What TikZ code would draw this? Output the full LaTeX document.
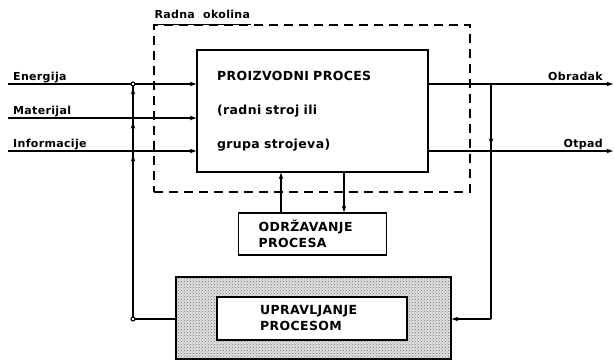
\documentclass[tikz,border=0pt]{standalone}
\usepackage{fontspec}
\setmainfont{DejaVu Sans}[LetterSpace=3]
\usetikzlibrary{arrows.meta, positioning, calc, patterns}

\tikzset{
  arr/.style={-{Stealth[length=6.5pt, width=4.5pt]}, line width=1.1pt},
  wire/.style={line width=1.1pt},
  blok/.style={draw, line width=1.4pt, inner sep=0pt},
  blokText/.style={font=\fontsize{12.5}{16}\selectfont\bfseries, align=left},
  lbl/.style={font=\fontsize{11}{14}\selectfont\bfseries, inner sep=0pt},
  okolina/.style={draw, line width=1.4pt, dash pattern=on 9pt off 6pt},
}

\begin{document}
\begin{tikzpicture}[x=1pt, y=-1pt]
\useasboundingbox (0,0) rectangle (615,361);

% radna okolina
\node[okolina, minimum width=316pt, minimum height=167pt] (env) at (312,108.5) {};
\node[lbl, anchor=south west, inner ysep=5pt, inner xsep=1pt] (envLbl) at (env.north west) {Radna\ \ okolina};
\draw[line width=1.4pt] (envLbl.south west) -- (envLbl.south east);

% proces
\node[blok, blokText, minimum width=231pt, minimum height=122pt, text width=191pt, inner xsep=20pt, fill=white] (proc) at (312.5,111)
     {PROIZVODNI PROCES\\[18pt](radni stroj ili\\[18pt]grupa strojeva)};

% ulazi
\foreach \y/\name/\txt in {84/inE/Energija, 118/inM/Materijal, 151/inI/Informacije} {
  \coordinate (\name) at (8,\y);
  \node[lbl, anchor=base west] (\name Lbl) at (13,\y-4) {\txt};
  \draw[arr] (\name) -- (\name -| proc.west);
}

% izlazi
\foreach \y/\name/\txt in {84/outO/Obradak, 151/outP/Otpad} {
  \coordinate (\name) at (613,\y);
  \node[lbl, anchor=base east] (\name Lbl) at (603,\y-4) {\txt};
  \draw[arr] (\name -| proc.east) -- (\name);
}

% odrzavanje
\node[blok, blokText, text width=108pt, inner xsep=20pt, minimum height=42pt] (odr) at (312.5,234) {ODRŽAVANJE\\PROCESA};
\draw[arr] ([xshift=-31.5pt]odr.north) -- ([xshift=-31.5pt]proc.south);
\draw[arr] ([xshift=31.5pt]proc.south) -- ([xshift=31.5pt]odr.north);

% upravljanje
\node[blok, minimum width=275pt, minimum height=82pt, preaction={fill=black!12}, pattern=crosshatch dots, pattern color=black!55] (uprOut) at (313.5,318) {};
\node[blok, blokText, fill=white, text width=104pt, inner xsep=43pt, minimum height=43pt] (upr) at (312,318.5) {UPRAVLJANJE\\PROCESOM};

% povratne veze
\coordinate (fbL) at (133,319);
\coordinate (fbR) at (491,319);
\draw[wire] (uprOut.west |- fbL) -- (fbL) -- (fbL |- inE);
\foreach \n in {inE, inM, inI}
  \draw[arr] ($(fbL |- \n)+(0,14)$) -- ($(fbL |- \n)+(0,4)$);
\draw[wire, fill=white] (fbL) circle (2pt) (fbL |- inE) circle (2pt);
\draw[wire] (fbR |- outO) -- (fbR);
\draw[arr] ($(fbR |- outP)+(0,-17)$) -- ($(fbR |- outP)+(0,-6)$);
\draw[arr] (fbR) -- (fbR -| uprOut.east);
\end{tikzpicture}
\end{document}
